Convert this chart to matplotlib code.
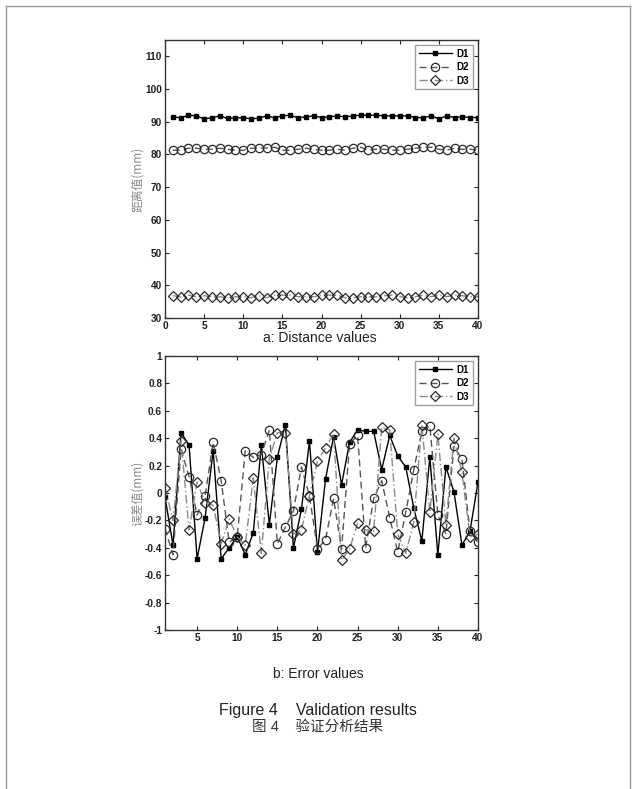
import matplotlib
matplotlib.use("Agg")
import matplotlib.pyplot as plt
from matplotlib.ticker import FuncFormatter

# sample index
idx = list(range(1, 41))

# distance values (mm)
dist_d1 = [91.5, 91.2, 92.0, 91.8, 90.9, 91.2, 91.8, 91.0, 91.2, 91.2,
           90.9, 91.1, 91.8, 91.2, 91.8, 92.0, 91.2, 91.5, 91.8, 91.3,
           91.5, 91.8, 91.5, 91.8, 92.0, 92.0, 92.0, 91.8, 91.8, 91.8,
           91.8, 91.3, 91.2, 91.8, 90.9, 91.8, 91.3, 91.5, 91.3, 91.3]
dist_d2 = [81.3, 81.3, 81.9, 81.9, 81.6, 81.6, 81.9, 81.6, 81.3, 81.3,
           81.9, 81.9, 82.0, 82.2, 81.3, 81.3, 81.6, 81.9, 81.6, 81.3,
           81.3, 81.6, 81.3, 81.9, 82.2, 81.3, 81.6, 81.6, 81.3, 81.3,
           81.6, 81.9, 82.2, 82.2, 81.6, 81.3, 81.9, 81.6, 81.6, 81.3]
dist_d3 = [36.8, 36.5, 37.0, 36.5, 36.8, 36.5, 36.5, 36.2, 36.5, 36.5,
           36.2, 36.8, 36.2, 37.0, 37.0, 37.0, 36.5, 36.5, 36.5, 37.0,
           37.0, 37.0, 36.2, 36.2, 36.5, 36.5, 36.5, 36.8, 37.0, 36.5,
           36.2, 36.5, 37.0, 36.5, 37.0, 36.5, 37.0, 36.8, 36.5, 36.5]

# error values (mm)
err_d1 = [-0.03, -0.38, 0.44, 0.35, -0.48, -0.18, 0.31, -0.48, -0.40, -0.32,
          -0.45, -0.29, 0.35, -0.23, 0.26, 0.50, -0.40, -0.12, 0.38, -0.43,
          0.10, 0.41, 0.06, 0.37, 0.46, 0.45, 0.45, 0.17, 0.42, 0.27,
          0.19, -0.11, -0.35, 0.26, -0.45, 0.19, 0.01, -0.38, -0.28, 0.08]
err_d2 = [-0.26, -0.45, 0.32, 0.12, -0.16, -0.02, 0.37, 0.09, -0.36, -0.32,
          0.31, 0.26, 0.28, 0.46, -0.37, -0.25, -0.13, 0.19, -0.02, -0.41,
          -0.34, -0.04, -0.41, 0.36, 0.42, -0.40, -0.04, 0.09, -0.18, -0.43,
          -0.14, 0.17, 0.45, 0.49, -0.16, -0.30, 0.34, 0.25, -0.28, -0.36]
err_d3 = [0.04, -0.20, 0.38, -0.27, 0.08, -0.07, -0.09, -0.37, -0.19, -0.32,
          -0.38, 0.11, -0.44, 0.25, 0.44, 0.44, -0.30, -0.27, -0.02, 0.23,
          0.33, 0.43, -0.49, -0.41, -0.22, -0.27, -0.28, 0.48, 0.46, -0.30,
          -0.44, -0.21, 0.50, -0.14, 0.43, -0.23, 0.40, 0.15, -0.32, -0.30]

labels = ["D1", "D2", "D3"]

W, H = 636, 789
fig = plt.figure(figsize=(W / 100, H / 100), dpi=100)
fig.patch.set_facecolor("white")

# thin grey page frame
frame = dict(color="#9a9a9a", lw=1.0, transform=fig.transFigure)
fig.add_artist(plt.Line2D([6 / W, 6 / W], [0, 1 - 6 / H], **frame))
fig.add_artist(plt.Line2D([6 / W, 630 / W], [1 - 6 / H, 1 - 6 / H], **frame))
fig.add_artist(plt.Line2D([630 / W, 630 / W], [0, 1 - 6 / H], **frame))

styles = [
    dict(color="black", ls="-", lw=1.0, marker="s", ms=3.5, mfc="black", mec="black"),
    dict(color="#555555", ls=(0, (5, 3)), lw=1.0, marker="o", ms=6, mfc="none", mec="#2a2a2a", mew=0.9),
    dict(color="#8a8a8a", ls=(0, (6, 2, 1, 2)), lw=1.0, marker="D", ms=4.8, mfc="none", mec="#2a2a2a", mew=0.9),
]

tickfont = dict(family="Liberation Sans", weight="bold", size=7.3)
cjk = ["Noto Sans CJK SC", "DejaVu Sans"]


def style_axes(ax):
    ax.tick_params(direction="in", top=True, right=True, length=3, width=0.8,
                   colors="#222222", pad=2)
    for lab in ax.get_xticklabels() + ax.get_yticklabels():
        lab.set_fontproperties(tickfont)
        lab.set_color("#222222")
    for s in ax.spines.values():
        s.set_linewidth(1.0)
        s.set_color("#333333")
    ax.yaxis.set_label_coords(-21 / 313, 0.5)
    leg = ax.legend(loc="upper right", handlelength=3.4,
                    prop=dict(family="Liberation Sans", weight="bold", size=7),
                    fancybox=False, edgecolor="#888888", borderaxespad=0.5,
                    borderpad=0.4, labelspacing=0.35, handletextpad=0.5)
    leg.get_frame().set_linewidth(1.0)


# top: distance values
ax1 = fig.add_axes([165 / W, 1 - 318 / H, 313 / W, 278 / H])
for ys, lab, st in zip([dist_d1, dist_d2, dist_d3], labels, styles):
    ax1.plot(idx, ys, label=lab, **st)
ax1.set_xlim(0, 40)
ax1.set_ylim(30, 115)
ax1.set_xticks(range(0, 41, 5))
ax1.set_yticks(range(30, 111, 10))
ax1.set_ylabel("距离值(mm)", family=cjk, fontsize=8.5, color="#8a8a8a")
style_axes(ax1)

# bottom: error values
ax2 = fig.add_axes([165 / W, 1 - 630 / H, 313 / W, 274 / H])
for ys, lab, st in zip([err_d1, err_d2, err_d3], labels, styles):
    ax2.plot(idx, ys, label=lab, **st)
ax2.set_xlim(1, 40)
ax2.set_ylim(-1, 1)
ax2.set_xticks(range(5, 41, 5))
ax2.set_yticks([i / 10 for i in range(-10, 11, 2)])
ax2.yaxis.set_major_formatter(FuncFormatter(lambda v, p: "%g" % round(v, 1)))
ax2.set_ylabel("误差值(mm)", family=cjk, fontsize=8.5, color="#8a8a8a")
style_axes(ax2)

# captions
fig.text(320 / W, 1 - 338 / H, "a: Distance values", ha="center", va="center",
         family="Liberation Sans", fontsize=10, color="#222222")
fig.text(318 / W, 1 - 674 / H, "b: Error values", ha="center", va="center",
         family="Liberation Sans", fontsize=10, color="#222222")
fig.text(318 / W, 1 - 711 / H, "Figure 4    Validation results", ha="center", va="center",
         family="Liberation Sans", fontsize=11.5, color="#222222")
fig.text(318 / W, 1 - 727 / H, "图 4    验证分析结果", ha="center", va="center",
         family=["Liberation Sans", "Noto Sans CJK SC"], fontsize=10.5, color="#333333")

fig.savefig("out.png", dpi=100)
